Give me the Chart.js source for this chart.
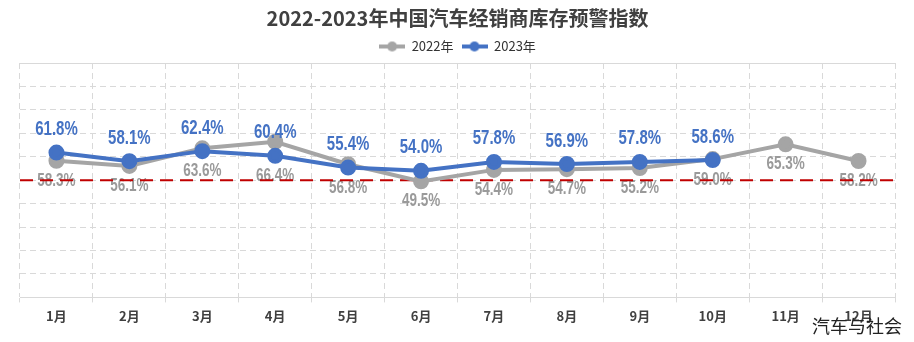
<!DOCTYPE html>
<html>
<head>
<meta charset="utf-8">
<script src="https://cdn.jsdelivr.net/npm/chart.js@4.4.0/dist/chart.umd.min.js"></script>
<style>
  html, body { margin: 0; padding: 0; background: #fff; }
  #wrap { position: relative; width: 914px; height: 342px; }
  #mark { position: absolute; left: 812px; top: 314px; font: 18px "Noto Sans CJK SC", sans-serif; color: #222; line-height: 22px; }
</style>
</head>
<body>
<div id="wrap">
  <canvas id="chart" width="914" height="342"></canvas>
  <div id="mark">汽车与社会</div>
</div>
<script>
/* monthly dealer inventory warning index, % */
const months = ['1月', '2月', '3月', '4月', '5月', '6月', '7月', '8月', '9月', '10月', '11月', '12月'];
const index2022 = [58.3, 56.1, 63.6, 66.4, 56.8, 49.5, 54.4, 54.7, 55.2, 59.0, 65.3, 58.2];
const index2023 = [61.8, 58.1, 62.4, 60.4, 55.4, 54.0, 57.8, 56.9, 57.8, 58.6];
const warnLine = 50;

const GRAY = '#a5a5a5';
const BLUE = '#4472c4';
const RED = '#c00000';
const NUM_FONT = '"Liberation Sans", Arial, sans-serif';

/* legend marker: short line with a dot in the middle */
function legendMark(color) {
    const c = document.createElement('canvas');
    c.width = 26;
    c.height = 12;
    const g = c.getContext('2d');
    g.strokeStyle = color;
    g.lineWidth = 4;
    g.beginPath();
    g.moveTo(0, 6);
    g.lineTo(26, 6);
    g.stroke();
    g.fillStyle = color;
    g.beginPath();
    g.arc(13, 6, 5, 0, Math.PI * 2);
    g.fill();
    return c;
}

/* narrow bold number text, squeezed horizontally */
function narrowText(ctx, text, x, y) {
    ctx.save();
    ctx.translate(x, y);
    ctx.scale(0.75, 1);
    ctx.fillText(text, 0, 0);
    ctx.restore();
}

/* value labels under the 2022 line and the dashed 50 line */
const underLayer = {
    id: 'underLayer',
    beforeDatasetsDraw(chart) {
        const ctx = chart.ctx;
        const area = chart.chartArea;
        const y = chart.scales.y;
        const m22 = chart.getDatasetMeta(0).data;
        const m23 = chart.getDatasetMeta(1).data;
        ctx.save();
        ctx.font = 'bold 18px ' + NUM_FONT;
        ctx.fillStyle = '#9a9a9a';
        ctx.textAlign = 'center';
        ctx.textBaseline = 'middle';
        m22.forEach(function(pt, i) {
            let low = pt.y;
            if (m23[i]) low = Math.max(low, m23[i].y);
            narrowText(ctx, index2022[i].toFixed(1) + '%', pt.x, low + 20);
        });
        const py = y.getPixelForValue(warnLine);
        ctx.strokeStyle = RED;
        ctx.lineWidth = 2;
        ctx.setLineDash([13, 7]);
        ctx.beginPath();
        ctx.moveTo(area.left, py);
        ctx.lineTo(area.right, py);
        ctx.stroke();
        ctx.restore();
    }
};

/* value labels above the 2023 line */
const overLayer = {
    id: 'overLayer',
    afterDatasetsDraw(chart) {
        const ctx = chart.ctx;
        const m23 = chart.getDatasetMeta(1).data;
        ctx.save();
        ctx.font = 'bold 20px ' + NUM_FONT;
        ctx.fillStyle = BLUE;
        ctx.textAlign = 'center';
        ctx.textBaseline = 'middle';
        m23.forEach(function(pt, i) {
            narrowText(ctx, index2023[i].toFixed(1) + '%', pt.x, pt.y - 23);
        });
        ctx.restore();
    }
};

const gridColor = '#d9d9d9';

new Chart(document.getElementById('chart'), {
    type: 'line',
    data: {
        labels: months,
        datasets: [{
            label: '2022年',
            data: index2022,
            borderColor: GRAY,
            backgroundColor: GRAY,
            borderWidth: 4,
            pointRadius: 6,
            pointHoverRadius: 6,
            pointStyle: 'circle',
            order: 2
        }, {
            label: '2023年',
            data: index2023,
            borderColor: BLUE,
            backgroundColor: BLUE,
            borderWidth: 4,
            pointRadius: 6,
            pointHoverRadius: 6,
            pointStyle: 'circle',
            order: 1
        }]
    },
    options: {
        responsive: false,
        animation: false,
        layout: { padding: { left: 20, right: 19, top: 4, bottom: 12 } },
        plugins: {
            title: {
                display: true,
                text: '2022-2023年中国汽车经销商库存预警指数',
                color: '#404040',
                font: { family: '"Noto Sans CJK SC"', size: 20, weight: 'bold' },
                padding: { top: 2, bottom: 2 }
            },
            legend: {
                display: true,
                labels: {
                    color: '#333',
                    font: { family: '"Noto Sans CJK SC"', size: 13 },
                    usePointStyle: true,
                    pointStyleWidth: 26,
                    padding: 8,
                    generateLabels(chart) {
                        return chart.data.datasets.map(function(ds, i) {
                            return {
                                text: ds.label,
                                datasetIndex: i,
                                pointStyle: legendMark(ds.borderColor),
                                fontColor: '#333',
                                hidden: false,
                                lineWidth: 0,
                                strokeStyle: 'transparent',
                                fillStyle: ds.borderColor
                            };
                        });
                    }
                }
            },
            tooltip: { enabled: false }
        },
        scales: {
            x: {
                offset: true,
                grid: { offset: true, color: gridColor, tickLength: 5, tickColor: gridColor },
                border: { display: true, color: gridColor, dash: [6, 4] },
                ticks: {
                    color: '#404040',
                    padding: 6,
                    font: { family: '"Noto Sans CJK SC"', size: 13, weight: 'bold' }
                }
            },
            y: {
                min: 0,
                max: 100,
                ticks: { display: false, stepSize: 10 },
                grid: { color: gridColor, drawTicks: false },
                border: {
                    display: false,
                    dash: function(ctx) {
                        return ctx.tick && ctx.tick.value === 100 ? [] : [6, 4];
                    }
                }
            }
        }
    },
    plugins: [underLayer, overLayer]
});
</script>
</body>
</html>
